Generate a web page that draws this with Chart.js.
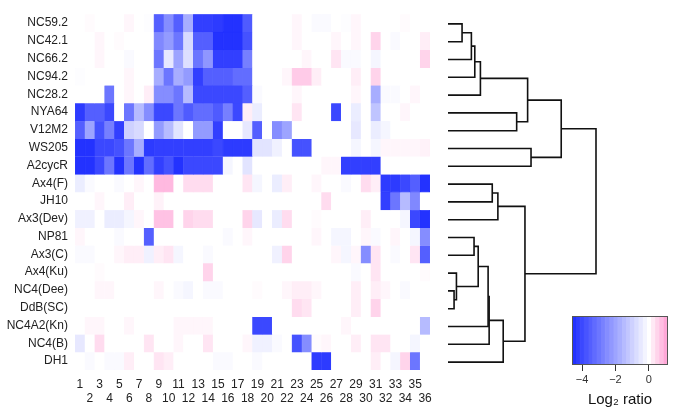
<!DOCTYPE html>
<html>
<head>
<meta charset="utf-8">
<script src="https://cdn.jsdelivr.net/npm/chart.js@4"></script>
<style>
  html, body { margin: 0; padding: 0; background: #fff; }
  #wrap { position: relative; width: 685px; height: 416px; overflow: hidden; }
  #wrap canvas { position: absolute; }
</style>
</head>
<body>
<div id="wrap">
  <canvas id="heat" width="440" height="416" style="left:0;top:0"></canvas>
  <canvas id="tree" width="245" height="416" style="left:440px;top:0"></canvas>
  <canvas id="scale" width="130" height="116" style="left:555px;top:300px"></canvas>
</div>
<script>
// ------------------------------------------------------------
// DATA
// ------------------------------------------------------------
const rowNames = ["NC59.2", "NC42.1", "NC66.2", "NC94.2", "NC28.2", "NYA64", "V12M2", "WS205", "A2cycR",
  "Ax4(F)", "JH10", "Ax3(Dev)", "NP81", "Ax3(C)", "Ax4(Ku)", "NC4(Dee)", "DdB(SC)", "NC4A2(Kn)", "NC4(B)", "DH1"];

const colLabels = ["1", "2", "3", "4", "5", "6", "7", "8", "9", "10", "11", "12", "13", "14", "15", "16", "17", "18",
  "19", "20", "21", "22", "23", "24", "25", "26", "27", "28", "29", "30", "31", "32", "33", "34", "35", "36"];

// log2 ratio, one row per strain, columns 1..36
const ratios = [
  [0, 0.05, 0, 0, 0, 0.1, 0, -0.05, -3.5, -2.5, -3.5, -1.8, -4.2, -4.2, -4.3, -4.5, -4.5, -3.6, 0, 0, 0, 0, 0.1, 0, -0.1, -0.1, 0, -0.05, 0.1, 0, 0, 0, 0, 0.05, 0, 0],
  [0, 0, 0.1, 0, 0.05, 0, 0, 0, -2.6, -2.2, -3.0, -0.8, -3.5, -3.5, -4.5, -4.5, -4.5, -3.8, 0, 0, 0, 0, 0.1, 0, 0, 0, 0.1, 0, 0.1, 0, 0.5, 0, -0.1, 0, 0, 0.2],
  [0, 0, 0.1, 0, 0, -0.1, 0, 0, -3.0, -0.5, -2.0, -0.7, -3.0, -2.3, -4.2, -4.2, -4.2, -2.8, 0, 0, 0, 0, 0, 0.1, 0, 0, 0.3, -0.1, -0.1, 0, -0.2, 0, 0, 0, 0, 0.5],
  [-0.05, 0, 0, 0, 0, 0.1, 0, 0, -1.8, -3.0, -1.8, -2.2, -4.2, -3.5, -3.5, -3.5, -3.2, -3.2, 0, 0, 0, 0.1, 0.6, 0.6, 0.2, 0, 0, 0, 0.2, 0, 0.5, 0, 0, 0, 0, 0],
  [0, 0, 0, -3.0, 0, 0.1, 0, 0.2, -2.5, -2.5, -3.0, -1.5, -4.0, -4.0, -4.0, -4.0, -4.0, -3.5, -0.1, 0, 0, 0, 0.1, 0, 0, 0, 0, 0, 0.1, 0, -1.8, -0.1, -0.1, 0, 0.1, 0],
  [-4.3, -3.5, -3.5, -4.0, 0, -3.0, -1.5, -2.5, -4.0, -4.0, -3.0, -3.6, -3.2, -3.2, -3.6, -2.8, -4.0, 0.2, -0.4, 0, 0, 0, 0.3, 0, 0, 0, -4.0, 0, -0.4, 0, -1.3, 0, 0, 0.1, 0, 0],
  [-3.5, -2.0, -3.8, -2.8, -4.2, -1.0, -0.8, 0, -2.2, -1.5, -0.6, 0, -2.2, -2.2, -4.2, 0, 0, -0.5, -3.5, 0, -2.5, -2.0, 0, 0, 0, 0, 0, 0, -0.5, 0, -0.4, -0.2, 0, 0, 0, 0],
  [-4.5, -4.5, -4.0, -4.0, -3.8, -3.0, -1.8, -4.3, -4.2, -4.2, -4.2, -4.2, -4.2, -4.2, -4.0, -4.3, -4.3, -4.3, -0.6, -0.6, -0.3, 0, -3.8, -3.8, 0, 0, 0, 0, -0.2, 0, -0.2, 0.1, 0.1, 0.1, 0.1, 0.15],
  [-4.5, -4.5, -4.0, -3.0, -4.5, -3.0, -4.5, -3.2, -4.2, -3.8, -4.5, -4.0, -4.0, -4.0, -4.0, -0.2, 0, -0.6, 0, 0, 0, 0, 0, 0, 0, 0.1, 0.1, -4.2, -4.2, -4.2, -4.2, 0, 0, 0, 0, 0],
  [-0.4, -0.1, 0, 0, -0.1, 0, 0.1, 0, 0.8, 0.8, 0, 0.4, 0.4, 0.4, 0, 0, 0, 0.3, -0.2, 0, -0.4, 0.2, 0, 0, 0.1, 0, 0, -0.1, 0, 0.4, 0.2, -4.3, -4.3, -4.0, -3.5, -4.5],
  [0, 0, 0.1, 0, 0, 0.2, 0, 0, 0.15, 0, 0, 0, 0, 0, 0, 0, 0, 0, 0, 0, 0, 0, 0, 0, 0, 0.4, 0, 0, 0, 0, 0, -4.2, -3.0, -1.5, -2.6, 0],
  [-0.3, -0.3, 0, -0.4, -0.4, -0.2, 0.1, 0, 0.7, 0.7, 0, 0.5, 0.4, 0.4, 0, 0, 0, 0.5, -0.5, 0, -0.4, 0.4, 0, 0, 0.05, 0, 0, 0, 0, 0.2, 0, 0, 0, -0.2, -4.0, -4.5],
  [0.1, 0, 0, 0, -0.1, 0, 0, -3.5, 0, 0, 0, 0, 0, 0, 0, -0.1, 0, 0.1, 0, 0, 0, 0, 0, 0, 0.1, 0, -0.2, -0.2, 0, 0.1, -0.1, 0, 0.1, 0, -0.2, -2.5],
  [-0.1, -0.1, 0, 0, 0.1, 0.2, 0.2, -0.3, 0.2, 0.3, -0.2, 0, 0, -0.1, 0, 0, 0, 0, 0, 0, -0.3, 0.5, 0, 0, 0, 0, 0.1, -0.2, 0.1, -2.5, 0.3, 0, -0.1, 0, 0.3, -3.5],
  [0, 0, 0.05, 0, 0, 0, 0, 0, 0, 0, 0, 0, 0, 0.5, 0, 0, 0, 0, 0, 0, 0, 0, 0, 0, 0, 0, 0, 0, -0.1, 0, 0.3, 0, 0, 0, 0, 0.05],
  [0, 0, 0.1, 0.1, 0, 0, 0, 0, 0.1, 0, -0.1, -0.2, 0, -0.1, -0.1, 0, 0, 0, 0.05, 0, 0, 0.1, 0.2, 0.2, 0.1, 0, 0, 0, 0.2, 0, 0.2, 0.1, 0, -0.1, 0, 0],
  [0, 0, 0, 0, 0, 0, 0, 0, 0, 0, 0, 0, 0, 0, 0, 0, 0, 0, 0, 0, 0, 0, 0.4, 0.3, 0, 0, 0, 0, 0.2, 0, 0.5, 0, 0, 0, 0, 0],
  [0, 0.1, 0.1, 0, 0, 0.1, 0, 0, 0, 0, 0.1, 0.1, 0.1, 0.1, 0, 0, 0, 0, -4.0, -4.0, 0, 0, 0, 0, 0, 0, 0, 0.1, 0, 0, 0, 0, 0, 0, 0, -1.5],
  [-0.5, 0, 0.4, 0, 0, 0, 0, 0.3, 0, 0, 0.1, 0, 0, 0.3, 0, 0, 0, 0.1, -0.3, -0.3, -0.1, 0, -3.8, -2.5, 0.05, 0.1, 0, 0, 0.2, 0, 0.3, 0.3, 0, 0, -0.2, 0],
  [0, -0.1, 0, -0.1, -0.1, 0.2, 0, 0, 0.3, 0.2, 0, 0, 0, 0, -0.1, -0.1, 0, 0, -0.1, 0, 0, 0, 0, 0, -4.3, -4.3, 0, 0, 0, 0, 0.2, 0, -0.2, 0.5, -3.0, 0]
];

// dendrogram merges (leaf = row index, node 20+k = merge k)
const mergeA = [0, 20, 21, 22, 5, 23, 7, 25, 9, 28, 12, 15, 14, 30, 33, 34, 35, 29, 27];
const mergeB = [1, 2, 3, 4, 6, 24, 8, 26, 10, 11, 13, 16, 31, 32, 17, 18, 19, 36, 37];
const mergeHeight = [0.095, 0.158, 0.181, 0.219, 0.464, 0.538, 0.561, 0.765, 0.299, 0.337,
  0.176, 0.041, 0.057, 0.204, 0.271, 0.278, 0.373, 0.520, 1.0];

// colour key
const keyStops = [-4.5, -4.25, -4, -3.75, -3.5, -3.25, -3, -2.75, -2.5, -2.25, -2, -1.75, -1.5, -1.25, -1,
  -0.75, -0.5, -0.25, 0, 0.25, 0.5, 0.75, 1.0, 1.25];
const keyTicks = [-4, -2, 0];
const keyMin = -4.6;
const keyMax = 1.15;

// ------------------------------------------------------------
// COLOURS
// ------------------------------------------------------------
function ratioColor(v) {
  if (v < 0) {
    const t = Math.min(1, -v / -keyMin);
    return `rgb(${Math.round(255 - 225 * t)},${Math.round(255 - 210 * t)},255)`;
  }
  const t = Math.min(1, v / keyMax);
  return `rgb(255,${Math.round(255 - 100 * t)},${Math.round(255 - 45 * t)})`;
}

Chart.defaults.font.family = '"Liberation Sans", Arial, sans-serif';
Chart.defaults.color = "#111";
Chart.defaults.animation = false;
Chart.defaults.plugins.legend.display = false;
Chart.defaults.plugins.tooltip.enabled = false;

// ------------------------------------------------------------
// HEATMAP
// ------------------------------------------------------------
const heatSets = rowNames.map((name, r) => {
  const colors = ratios[r].map(ratioColor);
  return {
    label: name,
    data: ratios[r].map(() => [r - 0.5, r + 0.5]),
    backgroundColor: colors,
    borderColor: colors,
    borderWidth: 0.6,
    borderSkipped: false,
    barPercentage: 1,
    categoryPercentage: 1,
    grouped: false
  };
});

new Chart(document.getElementById("heat"), {
  type: "bar",
  data: { labels: colLabels, datasets: heatSets },
  options: {
    responsive: false,
    devicePixelRatio: 1,
    layout: { padding: { top: 14, right: 10, left: 0, bottom: 0 } },
    scales: {
      x: {
        grid: { display: false },
        border: { display: false },
        ticks: {
          autoSkip: false, maxRotation: 0, minRotation: 0, padding: -1,
          font: { size: 12 }, color: "#222",
          callback: (v, i) => (i % 2 === 0 ? colLabels[i] : ["", colLabels[i]])
        },
        afterFit: s => { s.height = 46; }
      },
      y: {
        min: -0.5, max: 19.5, reverse: true,
        grid: { display: false, drawTicks: false },
        border: { display: false },
        afterBuildTicks: s => { s.ticks = rowNames.map((_, i) => ({ value: i })); },
        ticks: { padding: 7, font: { size: 12 }, color: "#222", callback: v => rowNames[v] },
        afterFit: s => { s.width = 75; }
      }
    }
  }
});

// ------------------------------------------------------------
// DENDROGRAM
// ------------------------------------------------------------
const nodePos = rowNames.map((_, i) => i);
const nodeHeight = rowNames.map(() => 0);
const treeSets = [];
mergeA.forEach((a, k) => {
  const b = mergeB[k];
  const h = mergeHeight[k];
  treeSets.push({
    data: [
      { x: nodeHeight[a], y: nodePos[a] }, { x: h, y: nodePos[a] },
      { x: h, y: nodePos[b] }, { x: nodeHeight[b], y: nodePos[b] }
    ],
    showLine: true, pointRadius: 0, borderColor: "#111", borderWidth: 1.6,
    tension: 0, clip: false
  });
  nodePos.push((nodePos[a] + nodePos[b]) / 2);
  nodeHeight.push(h);
});

new Chart(document.getElementById("tree"), {
  type: "scatter",
  data: { datasets: treeSets },
  options: {
    responsive: false,
    devicePixelRatio: 1,
    layout: { padding: { top: 15, bottom: 45, left: 8, right: 89 } },
    scales: {
      x: { type: "linear", min: 0, max: 1, display: false },
      y: { type: "linear", min: -0.5, max: 19.5, reverse: true, display: false }
    }
  }
});

// ------------------------------------------------------------
// COLOUR KEY
// ------------------------------------------------------------
const keyFrame = {
  id: "keyFrame",
  afterDraw(chart) {
    const { ctx, chartArea: a } = chart;
    ctx.save();
    ctx.strokeStyle = "#555";
    ctx.lineWidth = 1;
    ctx.strokeRect(Math.round(a.left) + 0.5, Math.round(a.top) + 0.5,
      Math.round(a.right - a.left) - 1, Math.round(a.bottom - a.top) - 1);
    ctx.restore();
  }
};

new Chart(document.getElementById("scale"), {
  type: "bar",
  data: {
    labels: [""],
    datasets: keyStops.map(s => ({
      data: [[s - 0.125, s + 0.125]],
      backgroundColor: ratioColor(s),
      borderColor: ratioColor(s),
      borderWidth: 0.5,
      borderSkipped: false,
      barPercentage: 1,
      categoryPercentage: 1,
      grouped: false
    }))
  },
  options: {
    indexAxis: "y",
    responsive: false,
    devicePixelRatio: 1,
    layout: { padding: { top: 16, left: 17, right: 17, bottom: 0 } },
    scales: {
      y: { display: false },
      x: {
        type: "linear", min: keyMin, max: keyMax,
        afterBuildTicks: s => { s.ticks = keyTicks.map(v => ({ value: v })); },
        grid: { display: true, drawOnChartArea: false, drawTicks: true, tickLength: 6, color: "#333" },
        border: { display: false },
        ticks: {
          padding: 2, font: { size: 11 }, color: "#333",
          callback: v => (v < 0 ? "\u2212" + Math.abs(v) : String(v))
        },
        title: { display: true, text: "Log\u2082 ratio", font: { size: 15 }, color: "#111", padding: { top: 0, bottom: 7 } },
        afterFit: s => { s.height = 51; }
      }
    }
  },
  plugins: [keyFrame]
});
</script>
</body>
</html>
